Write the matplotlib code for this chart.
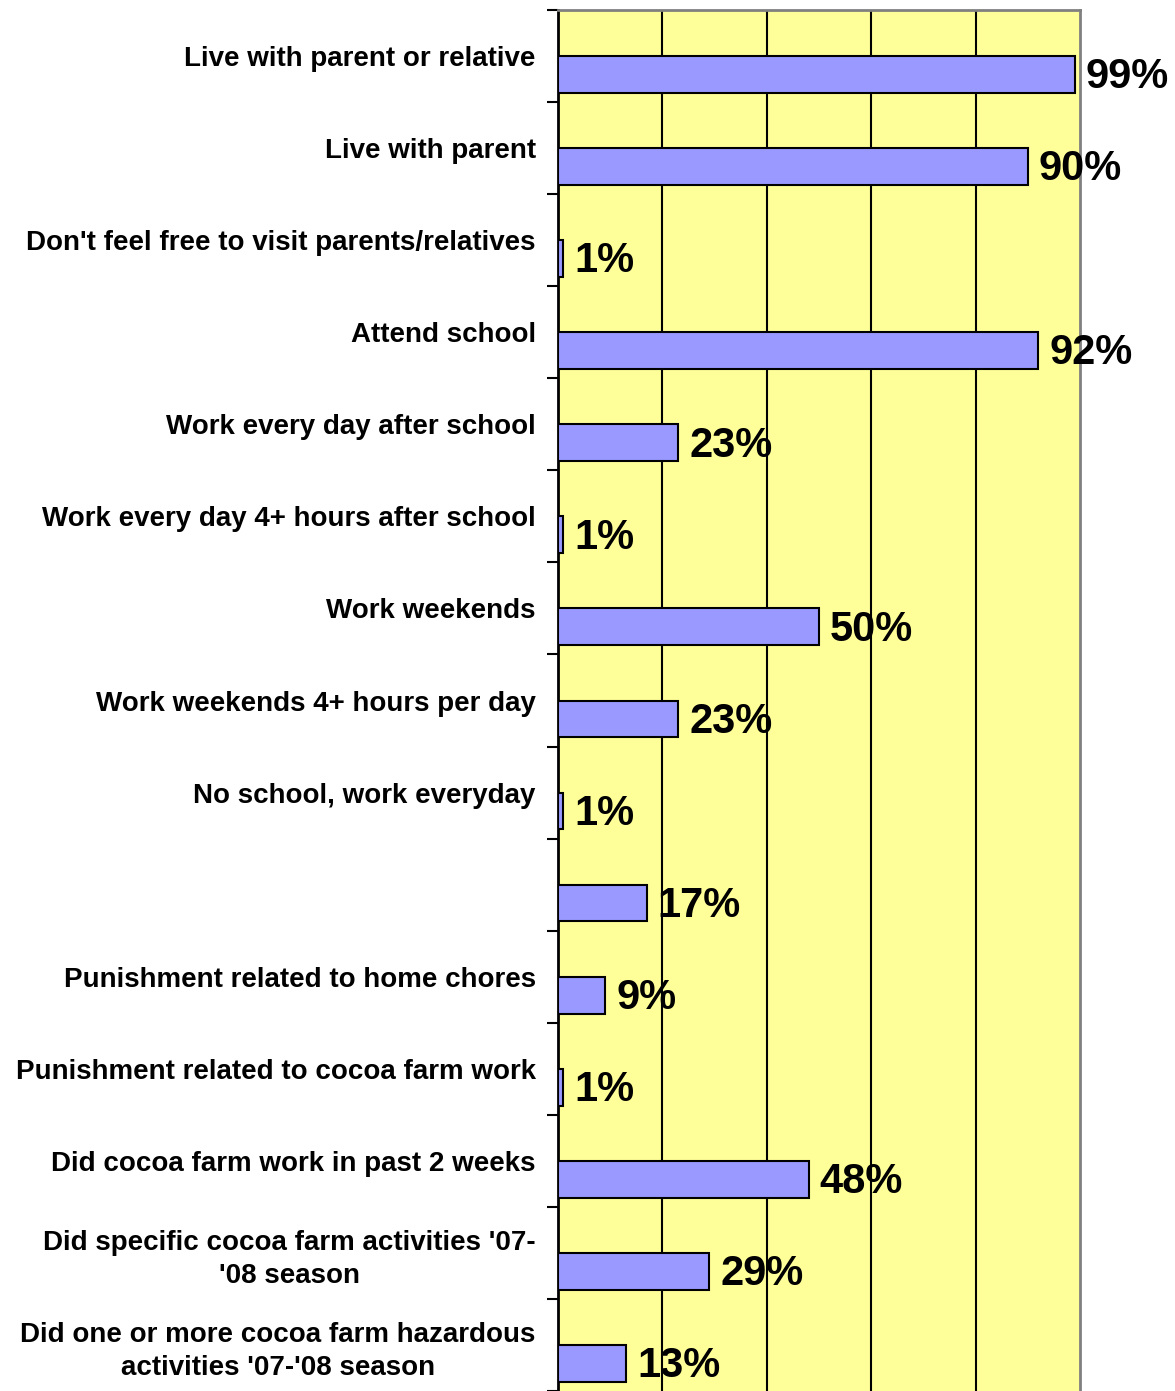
# ---------------------- IMPORTS
import matplotlib
import matplotlib.pyplot as plt
import numpy as np

matplotlib.use('Agg')

# ---------------------- DATA

categories = [
    "Live with parent or relative",
    "Live with parent",
    "Don't feel free to visit parents/relatives",
    "Attend school",
    "Work every day after school",
    "Work every day 4+ hours after school",
    "Work weekends",
    "Work weekends 4+ hours per day",
    "No school, work everyday",
    "",
    "Punishment related to home chores",
    "Punishment related to cocoa farm work",
    "Did cocoa farm work in past 2 weeks",
    "Did specific cocoa farm activities '07-\n'08 season",
    "Did one or more cocoa farm hazardous\nactivities '07-'08 season",
]
values = [99, 90, 1, 92, 23, 1, 50, 23, 1, 17, 9, 1, 48, 29, 13]
grid_ticks = [20, 40, 60, 80]

# ---------------------- PLOT

plt.rcParams['font.family'] = ['Liberation Sans', 'DejaVu Sans']
plt.rcParams['font.weight'] = 'bold'

fig = plt.figure(figsize=(11.75, 13.91), dpi=100)
ax = fig.add_axes([0.4749, 0.0, 0.4442, 0.9928])
ax.set_facecolor('#FFFF99')

pos = np.arange(len(categories))
# bar sits in lower part of each band (Excel style, second empty series)
bars = ax.barh(pos + 0.2, values, height=0.4, color='#9999FF',
               edgecolor='black', linewidth=1.5, zorder=3)

for b, v in zip(bars, values):
    ax.annotate("{}%".format(v), (b.get_width(), b.get_y() + b.get_height() / 2),
                xytext=(8, -2), textcoords='offset points', ha='left', va='center',
                fontsize=30, fontweight='bold', annotation_clip=False, zorder=5)

ax.set_xlim(0, 100)
ax.set_ylim(len(categories) - 0.5, -0.5)

# gridlines
ax.set_xticks(grid_ticks)
ax.set_xticklabels([])
ax.tick_params(axis='x', length=0)
ax.grid(axis='x', color='black', linewidth=1.5, zorder=1)

# category labels centred in band, tick marks at band edges
ax.set_yticks(pos)
ax.set_yticklabels(categories, fontsize=20, fontweight='bold',
                   multialignment='center', linespacing=1.35)
ax.tick_params(axis='y', which='major', length=0, pad=16)
ax.set_yticks(np.arange(len(categories) + 1) - 0.5, minor=True)
ax.tick_params(axis='y', which='minor', length=8, width=1.5, direction='out')

ax.spines['left'].set_color('black')
ax.spines['left'].set_linewidth(2)
for s in ['top', 'right']:
    ax.spines[s].set_color('#808080')
    ax.spines[s].set_linewidth(2)
ax.spines['bottom'].set_visible(False)

fig.savefig("out.png", dpi=100)
plt.close()
